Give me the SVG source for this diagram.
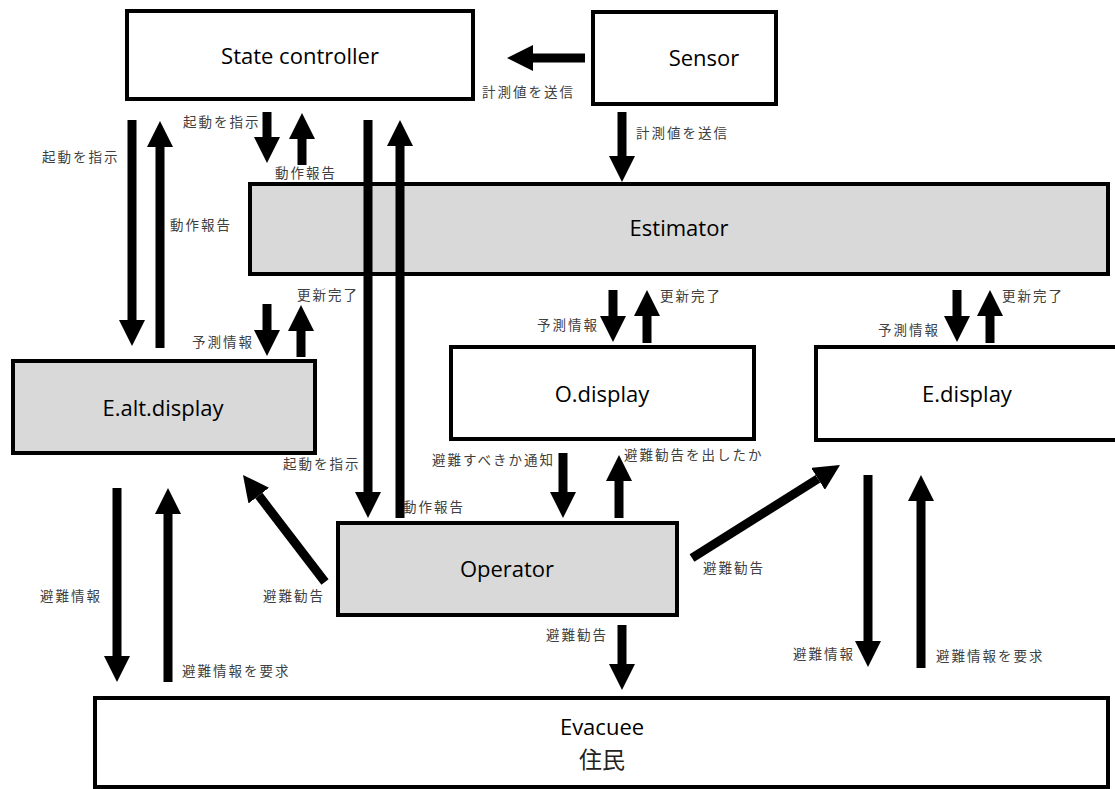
<svg xmlns="http://www.w3.org/2000/svg" width="1115" height="789" viewBox="0 0 1115 789">
  <style>
    .box { fill: #ffffff; stroke: #000000; stroke-width: 4; }
    .box.grey { fill: #d9d9d9; }
    .name { font-family: "Open Sans", "Noto Sans", sans-serif; font-size: 22px; fill: #000000; text-anchor: middle; }
    .lbl { font-family: "Noto Sans CJK JP", sans-serif; font-size: 13.5px; letter-spacing: 2px; fill: #404040; }
    .wire { fill: none; stroke: #000000; stroke-width: 9; marker-end: url(#head); }
  </style>
  <defs>
    <marker id="head" markerUnits="userSpaceOnUse" markerWidth="26" markerHeight="26" viewBox="0 0 26 26" refX="0" refY="13" orient="auto">
      <path d="M0,0 L26,13 L0,26 z" fill="#000000"/>
    </marker>
  </defs>
  <rect width="1115" height="789" fill="#ffffff"/>

  <g id="state-controller">
    <rect class="box" x="127" y="11" width="346" height="88"/>
    <text class="name" x="300" y="64">State controller</text>
  </g>
  <g id="sensor">
    <rect class="box" x="593" y="12" width="183" height="92"/>
    <text class="name" x="704" y="66">Sensor</text>
  </g>
  <g id="estimator">
    <rect class="box grey" x="250" y="184" width="858" height="90"/>
    <text class="name" x="679" y="236">Estimator</text>
  </g>
  <g id="e-alt-display">
    <rect class="box grey" x="13" y="361" width="302" height="92"/>
    <text class="name" x="163" y="416">E.alt.display</text>
  </g>
  <g id="o-display">
    <rect class="box" x="451" y="347" width="303" height="92"/>
    <text class="name" x="602" y="402">O.display</text>
  </g>
  <g id="e-display">
    <rect class="box" x="816" y="347" width="310" height="93"/>
    <text class="name" x="967" y="402">E.display</text>
  </g>
  <g id="operator">
    <rect class="box grey" x="338" y="523" width="339" height="92"/>
    <text class="name" x="507" y="577">Operator</text>
  </g>
  <g id="evacuee">
    <rect class="box" x="95" y="698" width="1013" height="89"/>
    <text class="name" x="602" y="735" font-size="22">Evacuee</text>
    <text class="name" x="602" y="768" style="font-family:'Noto Sans CJK JP',sans-serif;font-size:23px;fill:#222">住民</text>
  </g>

  <g id="connectors">
    <path class="wire" d="M585,58 H533"/>
    <path class="wire" d="M622,112 V156"/>
    <path class="wire" d="M267,112 V137"/>
    <path class="wire" d="M302,165 V139"/>
    <path class="wire" d="M132,120 V320"/>
    <path class="wire" d="M160,348 V147"/>
    <path class="wire" d="M368,120 V492"/>
    <path class="wire" d="M400,518 V146"/>
    <path class="wire" d="M267,304 V330"/>
    <path class="wire" d="M301,357 V331"/>
    <path class="wire" d="M325,582 L258.8,495.6"/>
    <path class="wire" d="M613,290 V316"/>
    <path class="wire" d="M647,343 V316"/>
    <path class="wire" d="M563,453 V492"/>
    <path class="wire" d="M619,518 V481"/>
    <path class="wire" d="M957,290 V316"/>
    <path class="wire" d="M990,343 V316"/>
    <path class="wire" d="M692,558 L818,478.8"/>
    <path class="wire" d="M868,475 V641"/>
    <path class="wire" d="M921,668 V501"/>
    <path class="wire" d="M622,625 V664"/>
    <path class="wire" d="M117,488 V656"/>
    <path class="wire" d="M168,682 V514"/>
  </g>

  <g id="labels">
    <text class="lbl" x="482" y="97">計測値を送信</text>
    <text class="lbl" x="636" y="138">計測値を送信</text>
    <text class="lbl" x="183" y="127">起動を指示</text>
    <text class="lbl" x="275" y="178">動作報告</text>
    <text class="lbl" x="42" y="162">起動を指示</text>
    <text class="lbl" x="170" y="230">動作報告</text>
    <text class="lbl" x="297" y="300">更新完了</text>
    <text class="lbl" x="192" y="347">予測情報</text>
    <text class="lbl" x="283" y="469">起動を指示</text>
    <text class="lbl" x="403" y="512">動作報告</text>
    <text class="lbl" x="263" y="601">避難勧告</text>
    <text class="lbl" x="660" y="301">更新完了</text>
    <text class="lbl" x="537" y="330">予測情報</text>
    <text class="lbl" x="432" y="465">避難すべきか通知</text>
    <text class="lbl" x="624" y="460">避難勧告を出したか</text>
    <text class="lbl" x="1002" y="301">更新完了</text>
    <text class="lbl" x="878" y="335">予測情報</text>
    <text class="lbl" x="703" y="573">避難勧告</text>
    <text class="lbl" x="793" y="659">避難情報</text>
    <text class="lbl" x="936" y="661">避難情報を要求</text>
    <text class="lbl" x="546" y="640">避難勧告</text>
    <text class="lbl" x="40" y="601">避難情報</text>
    <text class="lbl" x="182" y="676">避難情報を要求</text>
  </g>
</svg>
